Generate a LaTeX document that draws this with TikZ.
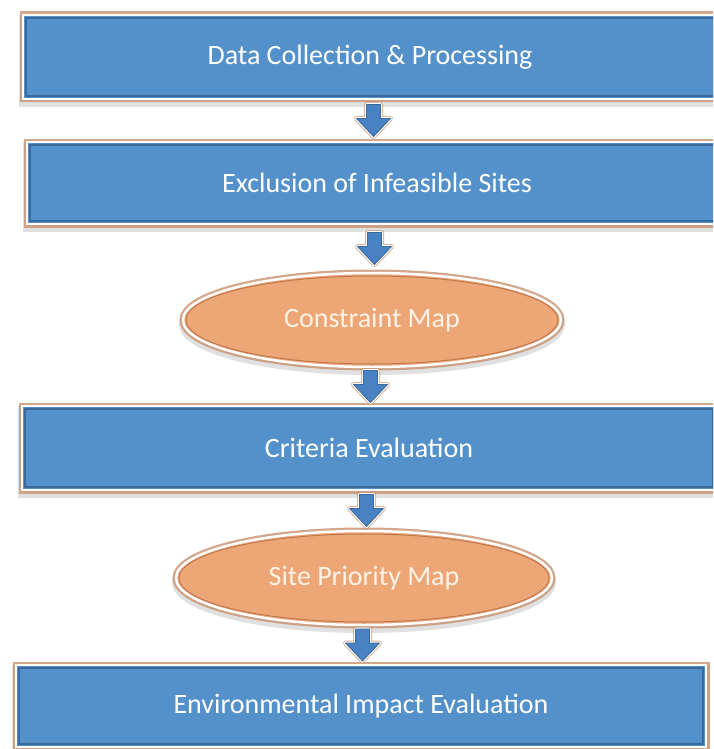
\documentclass[tikz,border=0pt]{standalone}
\usepackage{fontspec}
\setmainfont{Carlito}
\usetikzlibrary{calc,shapes.geometric}
\definecolor{boxblue}{RGB}{84,145,202}
\definecolor{bevel}{RGB}{58,106,155}
\definecolor{glow}{RGB}{200,146,112}
\definecolor{ellfill}{RGB}{237,166,118}
\definecolor{elledge}{RGB}{190,120,80}
\definecolor{elltext}{RGB}{255,243,232}
\definecolor{arrowblue}{RGB}{72,130,195}
\tikzset{
  boxnode/.style={rectangle, fill=boxblue, draw=white, line width=2.5pt,
    inner sep=0pt, text=white, font=\fontsize{28}{32}\selectfont,
    preaction={draw=black!12, line width=8pt, transform canvas={shift={(0pt,-4pt)}}},
    preaction={draw=glow, line width=7pt, opacity=0.8}},
  ellnode/.style={ellipse, fill=ellfill, draw=white, line width=2.5pt,
    inner sep=0pt, text=elltext, font=\fontsize{28}{32}\selectfont,
    preaction={draw=black!12, line width=8pt, transform canvas={shift={(0pt,-4pt)}}},
    preaction={draw=glow, line width=7pt, opacity=0.8}},
  bevelline/.style={draw=bevel, line width=1.8pt},
  ellinner/.style={draw=elledge, line width=1pt},
  arrowglow/.style={draw=glow, line width=5pt, line join=round, opacity=0.7},
  arrowwhite/.style={draw=white, line width=3pt, line join=round},
  arrowbody/.style={fill=arrowblue, draw=bevel, line width=0.8pt, line join=round}
}
\newcommand{\arrowpoly}{++(-7,-16) -- ++(14,0) -- ++(0,14) -- ++(10,0) -- ++(-17,18) -- ++(-17,-18) -- ++(10,0) -- cycle}
\newcommand{\blockarrow}[2]{%
  \path (#1.south) -- coordinate[pos=0.5] (m) (#2.north);
  \path[arrowglow] (m) \arrowpoly;
  \path[arrowwhite] (m) \arrowpoly;
  \path[arrowbody] (m) \arrowpoly;
}
\begin{document}
\begin{tikzpicture}[x=1pt,y=-1pt]
\useasboundingbox (0,0) rectangle (713,749);
\clip (0,0) rectangle (713,749);
\fill[white] (0,0) rectangle (713,749);

\node[boxnode, minimum width=694pt, minimum height=84pt] (b1) at (370,57) {Data Collection \& Processing};
\draw[bevelline] ([shift={(4,4)}]b1.north west) rectangle ([shift={(-4,-4)}]b1.south east);

\node[boxnode, minimum width=700pt, minimum height=82pt] (b2) at (377,183) {Exclusion of Infeasible Sites};
\draw[bevelline] ([shift={(4,4)}]b2.north west) rectangle ([shift={(-4,-4)}]b2.south east);

\node[ellnode, minimum width=378pt, minimum height=94pt] (e1) at (372,320) {Constraint Map};
\draw[ellinner] (e1.center) ellipse (186pt and 44pt);

\node[boxnode, minimum width=694pt, minimum height=84pt] (b3) at (369,448) {Criteria Evaluation};
\draw[bevelline] ([shift={(4,4)}]b3.north west) rectangle ([shift={(-4,-4)}]b3.south east);

\node[ellnode, minimum width=376pt, minimum height=94pt] (e2) at (364,578) {Site Priority Map};
\draw[ellinner] (e2.center) ellipse (185pt and 44pt);

\node[boxnode, minimum width=690pt, minimum height=82pt] (b4) at (361,706) {Environmental Impact Evaluation};
\draw[bevelline] ([shift={(4,4)}]b4.north west) rectangle ([shift={(-4,-4)}]b4.south east);

\blockarrow{b1}{b2}
\blockarrow{b2}{e1}
\blockarrow{e1}{b3}
\blockarrow{b3}{e2}
\blockarrow{e2}{b4}
\end{tikzpicture}
\end{document}
